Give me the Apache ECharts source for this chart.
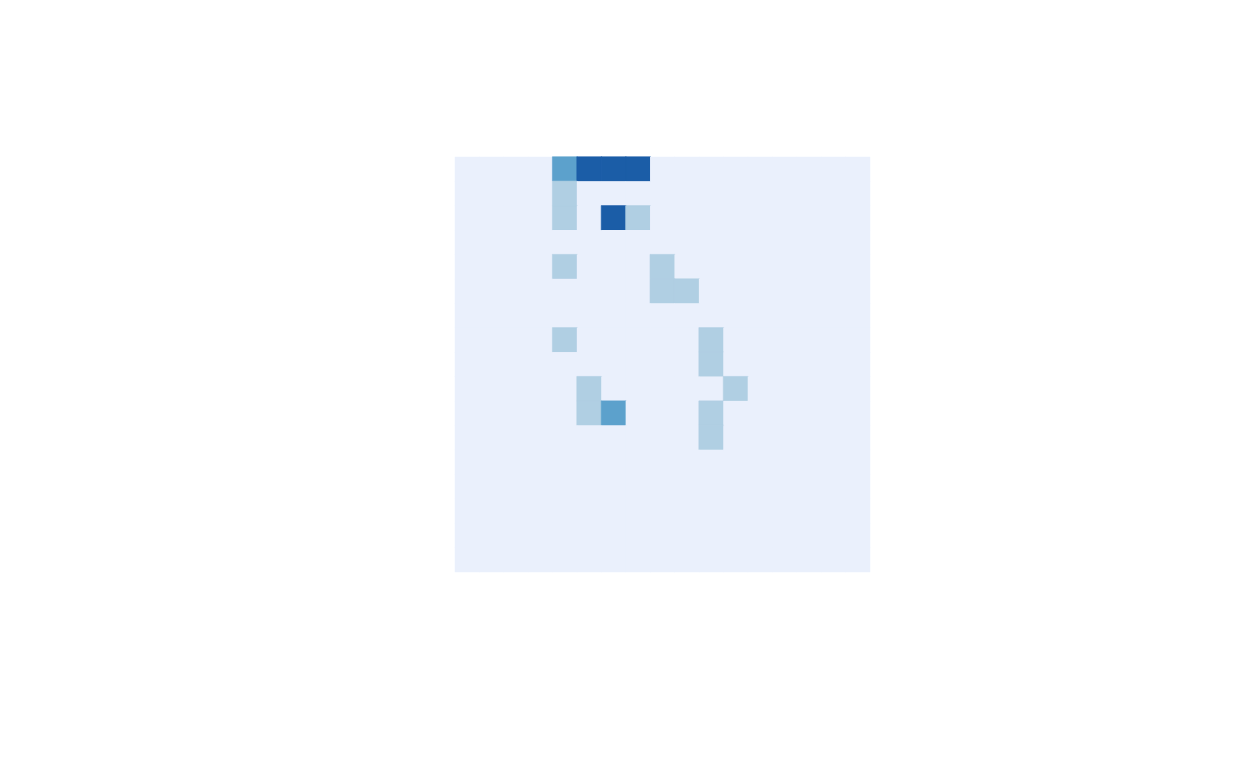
<!DOCTYPE html>
<html>
<head>
<meta charset="utf-8">
<script src="https://cdn.jsdelivr.net/npm/echarts@6/dist/echarts.min.js"></script>
<style>html,body{margin:0;padding:0;background:#fff;}#main{width:1248px;height:768px;}</style>
</head>
<body>
<div id="main"></div>
<script>
var xCategories = ['0','1','2','3','4','5','6','7','8','9','10','11','12','13','14','15','16'];
var yCategories = ['0','1','2','3','4','5','6','7','8','9','10','11','12','13','14','15','16'];
var levelColors = ['#eaf0fc', '#b0cfe3', '#5ca1cc', '#1b5da7'];
var matrix = [
  [0,0,0,0,2,3,3,3,0,0,0,0,0,0,0,0,0],
  [0,0,0,0,1,0,0,0,0,0,0,0,0,0,0,0,0],
  [0,0,0,0,1,0,3,1,0,0,0,0,0,0,0,0,0],
  [0,0,0,0,0,0,0,0,0,0,0,0,0,0,0,0,0],
  [0,0,0,0,1,0,0,0,1,0,0,0,0,0,0,0,0],
  [0,0,0,0,0,0,0,0,1,1,0,0,0,0,0,0,0],
  [0,0,0,0,0,0,0,0,0,0,0,0,0,0,0,0,0],
  [0,0,0,0,1,0,0,0,0,0,1,0,0,0,0,0,0],
  [0,0,0,0,0,0,0,0,0,0,1,0,0,0,0,0,0],
  [0,0,0,0,0,1,0,0,0,0,0,1,0,0,0,0,0],
  [0,0,0,0,0,1,2,0,0,0,1,0,0,0,0,0,0],
  [0,0,0,0,0,0,0,0,0,0,1,0,0,0,0,0,0],
  [0,0,0,0,0,0,0,0,0,0,0,0,0,0,0,0,0],
  [0,0,0,0,0,0,0,0,0,0,0,0,0,0,0,0,0],
  [0,0,0,0,0,0,0,0,0,0,0,0,0,0,0,0,0],
  [0,0,0,0,0,0,0,0,0,0,0,0,0,0,0,0,0],
  [0,0,0,0,0,0,0,0,0,0,0,0,0,0,0,0,0]
];
var data = [];
for (var r = 0; r < matrix.length; r++) {
  for (var c = 0; c < matrix[r].length; c++) {
    var v = matrix[r][c];
    var col = levelColors[v];
    data.push({value: [c, r, v], itemStyle: {color: col, borderColor: col, borderWidth: v > 0 ? 0.6 : 0}});
  }
}
var chart = echarts.init(document.getElementById('main'));
chart.setOption({
  animation: false,
  grid: {left: 455, top: 157, width: 415, height: 415, show: true, backgroundColor: '#eaf0fc', borderWidth: 0},
  xAxis: {type: 'category', data: xCategories, show: false},
  yAxis: {type: 'category', data: yCategories, inverse: true, show: false},
  series: [{
    type: 'heatmap',
    data: data,
    emphasis: {disabled: true}
  }]
});
</script>
</body>
</html>
